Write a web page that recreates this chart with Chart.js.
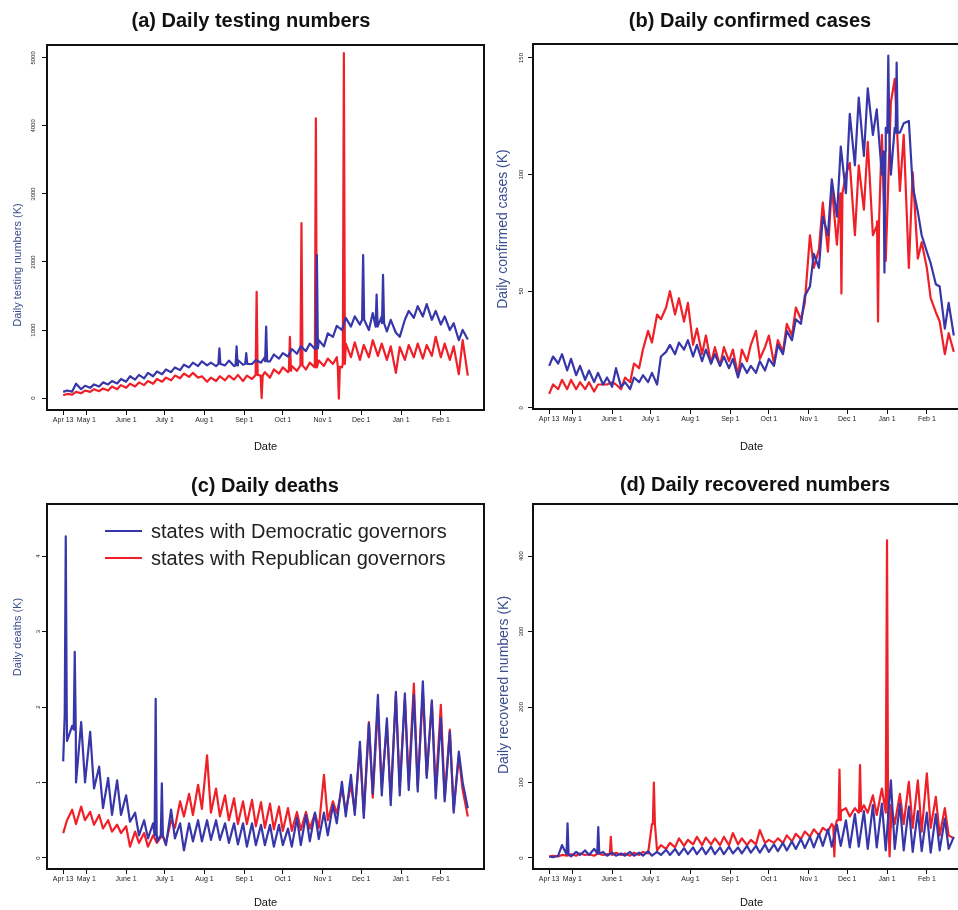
<!DOCTYPE html>
<html><head><meta charset="utf-8">
<script src="https://cdn.jsdelivr.net/npm/chart.js@4.4.1/dist/chart.umd.min.js"></script>
<style>
html,body{margin:0;padding:0;background:#fff;width:958px;height:910px;overflow:hidden;position:relative;font-family:"Liberation Sans",Arial,Helvetica,sans-serif;}
canvas{position:absolute;}
.ttl{position:absolute;font-weight:bold;font-size:20px;color:#111;transform:translate(-50%,-50%);white-space:nowrap;}
.ylab{position:absolute;color:#3a4d8f;transform:translate(-50%,-50%) rotate(-90deg);white-space:nowrap;}
.legline{position:absolute;left:105px;width:37px;height:2px;}
.legtxt{position:absolute;left:151px;font-size:20px;color:#222;transform:translateY(-50%);white-space:nowrap;}
</style></head><body>
<canvas id="ca" width="490" height="460" style="left:0px;top:0px;width:490px;height:460px"></canvas>
<canvas id="cb" width="486" height="460" style="left:490px;top:0px;width:486px;height:460px"></canvas>
<canvas id="cc" width="490" height="450" style="left:0px;top:460px;width:490px;height:450px"></canvas>
<canvas id="cd" width="486" height="450" style="left:490px;top:460px;width:486px;height:450px"></canvas>

<div class="ttl" style="left:251px;top:20px">(a) Daily testing numbers</div>
<div class="ttl" style="left:750px;top:20px">(b) Daily confirmed cases</div>
<div class="ttl" style="left:265px;top:485px">(c) Daily deaths</div>
<div class="ttl" style="left:755px;top:484px">(d) Daily recovered numbers</div>

<div class="ylab" style="left:17px;top:265px;font-size:11px">Daily testing numbers (K)</div>
<div class="ylab" style="left:502px;top:229px;font-size:14px">Daily confirmed cases (K)</div>
<div class="ylab" style="left:17px;top:637px;font-size:11px">Daily deaths (K)</div>
<div class="ylab" style="left:503px;top:685px;font-size:14px">Daily recovered numbers (K)</div>

<div id="legend"></div>

<script>
// ---------- data ----------
const seriesNames = ['states with Democratic governors', 'states with Republican governors'];
const demColor = '#3737aa';
const repColor = '#f02028';

// days since Apr 13 (2020), sampled twice a week
const days = [0,3,7,10,14,17,21,24,28,31,35,38,42,45,49,52,56,59,63,66,70,73,77,80,84,87,91,94,98,101,
  105,108,112,115,119,122,126,129,133,136,140,143,147,150,154,157,161,164,168,171,175,178,182,185,189,192,196,199,203,206,
  210,213,217,220,224,227,231,234,238,241,245,248,252,255,259,262,266,269,273,276,280,283,287,290,294,297,301,304,308,311,315];

const xTickDays = [0,18,49,79,110,141,171,202,232,263,294];
const xTickLabels = ['Apr 13','May 1','June 1','July 1','Aug 1','Sep 1','Oct 1','Nov 1','Dec 1','Jan 1','Feb 1'];

const testTicks = [0,1000,2000,3000,4000,5000];
const caseTicks = [0,50,100,150];
const deathTicks = [0,1,2,3,4];
const recTicks = [0,100,200,300,400];

// (a) daily testing numbers (K)
const testDem = [90,110,95,210,130,180,150,200,170,230,
  200,250,215,280,240,320,270,340,290,370,
  320,390,350,420,380,450,410,490,450,520,
  470,540,480,520,470,560,480,550,470,560,
  490,570,500,560,520,600,540,640,580,660,
  610,720,650,760,690,800,720,850,760,950,
  900,1060,1000,1180,1050,1200,1080,1220,1000,1250,
  1050,1200,980,1150,960,900,1150,1280,1180,1350,
  1200,1380,1150,1280,1080,1200,1000,1100,850,1000,
  860];
const testRep = [40,60,50,90,70,110,90,130,100,140,
  110,170,130,190,150,210,170,230,190,250,
  210,280,240,300,260,330,290,360,310,370,
  300,320,240,300,250,320,260,330,270,340,
  250,330,280,360,330,380,300,420,360,450,
  380,470,400,500,420,520,440,550,470,580,
  500,600,450,800,600,820,560,780,600,850,
  620,800,560,760,370,750,560,780,600,800,
  580,780,620,900,600,800,560,760,350,850,
  330];
// single-day spikes: [day, peak, level around it]
const testDemSpikes = [[121.6,730,500],[135,760,480],[142.5,660,500],[158,1050,540],[197.5,2100,730],[233.5,2100,1150],[244,1520,1050],[249,1810,1100]];
const testRepSpikes = [[150.6,1560,340],[154.5,0,330],[176.5,900,400],[185.5,2570,480],[196.7,4110,450],[214.6,-10,460],[218.5,5070,500]];

// (b) daily confirmed cases (K)
const casesDem = [18,22,19,23,16,21,14,18,12,16,
  11,15,10,13,9,17,9,11,8,13,
  11,14,11,15,10,22,24,27,23,28,
  25,29,22,27,20,25,19,23,18,22,
  17,21,13,19,15,18,15,20,16,21,
  18,27,23,33,29,38,36,48,52,66,
  60,82,74,98,82,112,92,126,104,133,
  108,137,117,128,100,120,100,120,118,122,
  123,95,84,74,67,62,53,52,34,45,
  31];
const casesRep = [6,10,8,12,8,12,8,11,8,11,
  7,10,10,10,11,10,8,13,11,19,
  17,25,33,28,40,38,43,50,40,47,
  37,45,27,34,23,31,19,26,18,26,
  20,25,14,25,20,27,33,21,26,31,
  19,29,24,36,31,43,38,45,74,60,
  68,88,67,95,70,95,100,105,74,104,
  85,114,74,78,117,63,131,141,93,117,
  60,101,64,71,60,47,41,37,23,32,
  24];
const casesDemSpikes = [[261,58,110],[264,151,118],[270.5,148,118]];
const casesRepSpikes = [[227.5,49,92],[256,37,80]];

// (c) daily deaths (K)
const deathsDem = [1.28,1.55,1.75,1.0,1.8,1.0,1.67,0.92,1.21,0.66,
  1.06,0.57,1.03,0.57,0.83,0.48,0.6,0.3,0.5,0.26,
  0.46,0.22,0.4,0.17,0.64,0.26,0.46,0.1,0.46,0.22,
  0.5,0.22,0.5,0.24,0.5,0.24,0.46,0.2,0.46,0.18,
  0.46,0.15,0.46,0.17,0.44,0.17,0.44,0.15,0.44,0.17,
  0.39,0.15,0.53,0.17,0.57,0.22,0.6,0.25,0.6,0.3,
  0.7,0.46,1.01,0.55,1.1,0.57,1.54,0.53,1.78,0.85,
  2.16,0.83,1.85,0.7,2.2,0.83,2.18,0.9,2.16,0.88,
  2.34,1.06,2.09,0.79,1.85,0.75,1.67,0.6,1.41,1.0,
  0.66];
const deathsRep = [0.33,0.5,0.64,0.45,0.68,0.5,0.61,0.44,0.57,0.39,
  0.5,0.35,0.44,0.33,0.42,0.15,0.35,0.2,0.33,0.15,
  0.3,0.2,0.3,0.2,0.5,0.4,0.75,0.55,0.85,0.57,
  0.97,0.65,1.36,0.6,0.92,0.55,0.83,0.5,0.79,0.45,
  0.75,0.45,0.77,0.42,0.74,0.4,0.72,0.38,0.68,0.36,
  0.66,0.36,0.61,0.37,0.61,0.39,0.59,0.4,1.1,0.5,
  0.75,0.59,0.92,0.62,0.97,0.62,1.45,0.6,1.8,0.8,
  2.0,0.95,1.75,0.8,2.15,0.95,2.1,1.0,2.31,0.95,
  2.2,1.1,2.05,0.9,2.03,0.8,1.7,0.65,1.35,0.9,
  0.55];
const deathsDemSpikes = [[2,4.26,1.9],[9,2.73,1.7],[72,2.11,0.3],[76.8,0.99,0.3]];
const deathsRepSpikes = [];

// (d) daily recovered numbers (K)
const recDem = [2,1,3,17,5,2,8,4,10,4,
  12,5,8,3,7,3,6,3,8,3,
  7,3,9,3,8,4,11,4,12,4,
  13,5,14,5,14,5,15,5,14,5,
  15,6,14,6,16,7,16,7,18,8,
  18,9,20,10,22,12,25,13,28,14,
  32,16,38,15,44,16,50,14,58,15,
  62,12,70,14,72,10,103,12,72,10,
  68,8,62,9,60,7,58,10,52,12,
  28];
const recRep = [2,3,2,4,3,5,3,6,4,5,
  3,6,4,5,4,7,4,6,3,7,
  4,8,6,45,10,17,12,20,14,26,
  16,24,18,28,17,27,18,26,17,28,
  17,33,18,26,17,24,18,37,20,24,
  20,26,20,30,22,32,25,35,28,38,
  30,40,35,45,50,62,66,55,66,60,
  70,60,83,57,92,60,70,45,85,45,
  101,40,103,35,112,40,81,30,66,30,
  26];
const recDemSpikes = [[14.3,46,5],[38.2,41,6]];
const recRepSpikes = [[48,28,5],[81.5,100,45],[222,2,42],[226,117,50],[242,123,62],[263,421,60],[265,2,40]];

// ---------- helpers ----------
Chart.defaults.font.family = '"Liberation Sans", Arial, Helvetica, sans-serif';
Chart.defaults.color = '#222';

function buildPoints(vals, spikes) {
  const pts = [];
  days.forEach((d, i) => {
    if (!spikes.some(s => Math.abs(s[0] - d) < 0.8)) pts.push({x: d, y: vals[i]});
  });
  spikes.forEach(([d, peak, base]) => {
    pts.push({x: d - 0.8, y: base}, {x: d, y: peak}, {x: d + 0.8, y: base});
  });
  pts.sort((a, b) => a.x - b.x);
  return pts;
}

const boxPlugin = {
  id: 'box',
  afterDraw(chart) {
    const {ctx, chartArea: a} = chart;
    ctx.save();
    ctx.strokeStyle = '#111';
    ctx.lineWidth = 2;
    ctx.strokeRect(a.left, a.top, a.right - a.left, a.bottom - a.top);
    ctx.restore();
  }
};

function makePanel(id, p) {
  new Chart(document.getElementById(id), {
    type: 'line',
    data: {
      datasets: [
        {label: seriesNames[0], data: buildPoints(p.dem, p.demSpikes), borderColor: demColor, backgroundColor: demColor},
        {label: seriesNames[1], data: buildPoints(p.rep, p.repSpikes), borderColor: repColor, backgroundColor: repColor}
      ]
    },
    options: {
      responsive: false, animation: false, devicePixelRatio: 1,
      layout: {padding: {left: 0, top: p.padTop, right: 6, bottom: 0}},
      plugins: {legend: {display: false}, tooltip: {enabled: false}},
      elements: {point: {radius: 0}, line: {tension: 0, borderWidth: 2.2, borderJoinStyle: 'round'}},
      scales: {
        x: {
          type: 'linear', bounds: 'data', min: -12.6, max: 327.6,
          afterFit: s => { s.height = p.xH; },
          afterBuildTicks: s => { s.ticks = xTickDays.map(v => ({value: v})); },
          ticks: {autoSkip: false, minRotation: 0, maxRotation: 0, font: {size: 7}, color: '#222', padding: 1,
                  callback: (v, i) => xTickLabels[i]},
          grid: {display: true, drawOnChartArea: false, drawTicks: true, tickLength: 5, tickColor: '#111', tickWidth: 1},
          border: {display: false},
          title: {display: true, text: 'Date', font: {size: 11}, color: '#111', padding: {top: 0, bottom: p.datePad}}
        },
        y: {
          type: 'linear', bounds: 'data', min: p.yMin, max: p.yMax,
          afterFit: s => { s.width = p.yW; },
          afterBuildTicks: s => { s.ticks = p.yTicks.map(v => ({value: v})); },
          ticks: {autoSkip: false, minRotation: 90, maxRotation: 90, crossAlign: 'center', font: {size: 6}, color: '#222', padding: 2,
                  callback: v => String(v)},
          grid: {display: true, drawOnChartArea: false, drawTicks: true, tickLength: 5, tickColor: '#111', tickWidth: 1},
          border: {display: false}
        }
      }
    },
    plugins: [boxPlugin]
  });
}

makePanel('ca', {dem: testDem, rep: testRep, demSpikes: testDemSpikes, repSpikes: testRepSpikes,
  yTicks: testTicks, yMin: -176, yMax: 5190, yW: 47, padTop: 45, xH: 50, datePad: 6.5});
makePanel('cb', {dem: casesDem, rep: casesRep, demSpikes: casesDemSpikes, repSpikes: casesRepSpikes,
  yTicks: caseTicks, yMin: -0.5, yMax: 156, yW: 43, padTop: 44, xH: 51, datePad: 6.5});
makePanel('cc', {dem: deathsDem, rep: deathsRep, demSpikes: deathsDemSpikes, repSpikes: deathsRepSpikes,
  yTicks: deathTicks, yMin: -0.146, yMax: 4.69, yW: 47, padTop: 44, xH: 41, datePad: 0.4});
makePanel('cd', {dem: recDem, rep: recRep, demSpikes: recDemSpikes, repSpikes: recRepSpikes,
  yTicks: recTicks, yMin: -14.6, yMax: 469, yW: 43, padTop: 44, xH: 41, datePad: 0.4});

// legend inside panel (c)
const leg = document.getElementById('legend');
[[seriesNames[0], demColor, 531], [seriesNames[1], repColor, 558]].forEach(([name, col, y]) => {
  const ln = document.createElement('div');
  ln.className = 'legline'; ln.style.top = (y - 1) + 'px'; ln.style.background = col;
  const tx = document.createElement('div');
  tx.className = 'legtxt'; tx.style.top = y + 'px'; tx.textContent = name;
  leg.appendChild(ln); leg.appendChild(tx);
});
</script>
</body></html>
